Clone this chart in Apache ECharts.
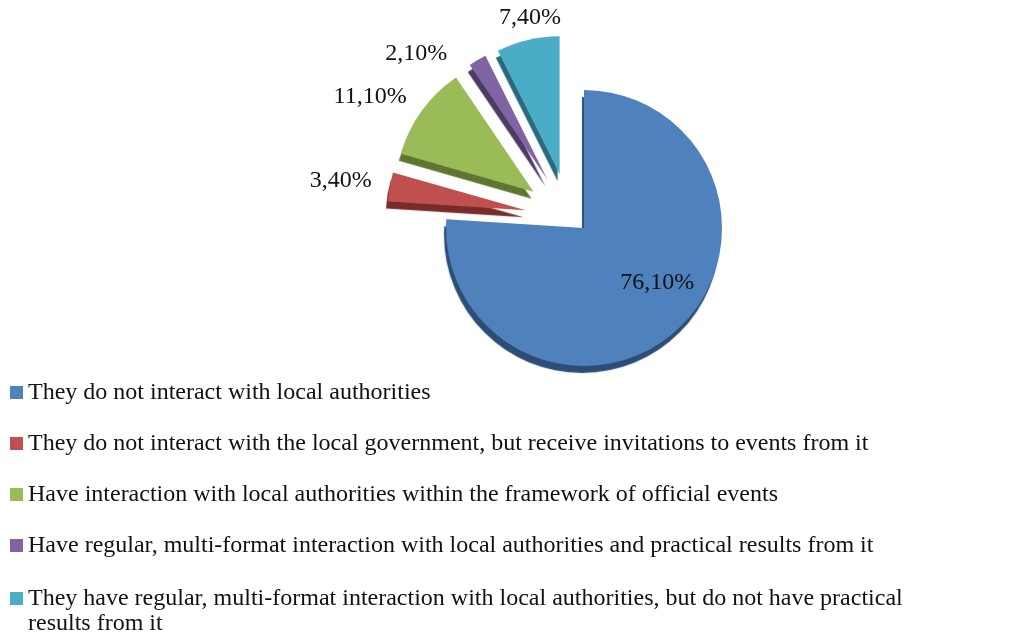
<!DOCTYPE html>
<html>
<head>
<meta charset="utf-8" />
<title></title>
<script type="text/javascript" src="https://cdn.jsdelivr.net/npm/echarts@6/dist/echarts.min.js"></script>
</head>
<body style="margin:0;background:#fff;">
<div id="main" style="width:1018px;height:639px;"></div>
<script type="text/javascript">
var categories = [
    'They do not interact with local authorities',
    'They do not interact with the local government, but receive invitations to events from it',
    'Have interaction with local authorities within the framework of official events',
    'Have regular, multi-format interaction with local authorities and practical results from it',
    'They have regular, multi-format interaction with local authorities, but do not have practical results from it'
];
var shares = [76.1, 3.4, 11.1, 2.1, 7.4];
var exploded = [false, true, true, true, true];

var colors = ['#4f81bd', '#c0504d', '#9bbb59', '#8064a2', '#4bacc6'];
var sideColors = ['#2c4d75', '#772c2a', '#5f7530', '#4d3b62', '#276a7c'];
// nudges for the percentage labels (px)
var labelShift = [[24, 2], [-2, -5], [0, -9], [-2, -9], [48, -14]];

var chart = echarts.init(document.getElementById('main'));

function fmt(v) {
    return v.toFixed(2).replace('.', ',') + '%';
}

// two pie series: the solid slice and the pulled-out ones (the exploded part sits a bit up-left)
function buildData(explodedPart) {
    var res = [];
    for (var i = 0; i < categories.length; i++) {
        var visible = exploded[i] === explodedPart;
        res.push({
            name: categories[i],
            value: shares[i],
            selected: explodedPart && visible,
            itemStyle: visible ? {
                color: colors[i],
                shadowColor: sideColors[i],
                shadowBlur: 1,
                shadowOffsetX: -2,
                shadowOffsetY: 7
            } : { color: 'transparent' },
            label: visible ? { show: true, position: i === 0 ? 'inside' : 'outside' } : { show: false }
        });
    }
    return res;
}

var legendData = categories.map(function (name, i) {
    return { name: name, itemStyle: { color: colors[i], shadowBlur: 0 } };
});

var labelCfg = {
    color: '#111',
    fontFamily: 'Liberation Serif',
    fontSize: 24,
    formatter: function (p) {
        return fmt(p.value);
    }
};

var legendBase = {
    orient: 'vertical',
    left: 10,
    padding: 0,
    icon: 'rect',
    itemWidth: 13,
    itemHeight: 13,
    itemGap: 26,
    selectedMode: false,
    formatter: function (name) {
        // last entry wraps onto a second line
        if (name === categories[4]) {
            return name.replace(' results from it', '\nresults from it');
        }
        return name;
    },
    textStyle: {
        fontFamily: 'Liberation Serif',
        fontSize: 24,
        lineHeight: 25,
        color: '#111'
    }
};

var option = {
    backgroundColor: '#fff',
    animation: false,
    // split in two so the long last entry does not push into a second column
    legend: [
        Object.assign({}, legendBase, { top: 380, data: legendData.slice(0, 4) }),
        Object.assign({}, legendBase, {
            top: 586,
            data: legendData.slice(4),
            // square sits beside the first text line, not centred on both
            icon: 'path://M0,0L13,0L13,13L0,13Z M0,38L0.05,38L0.05,38.05Z',
            itemHeight: 38
        })
    ],
    series: [{
        type: 'pie',
        center: [584, 228],
        radius: 138,
        startAngle: 90,
        clockwise: true,
        data: buildData(false),
        label: labelCfg,
        labelLine: { show: false },
        labelLayout: function (p) {
            return { dx: labelShift[p.dataIndex][0], dy: labelShift[p.dataIndex][1] };
        },
        emphasis: { disabled: true }
    }, {
        type: 'pie',
        center: [570, 218],
        radius: 138,
        startAngle: 90,
        clockwise: true,
        selectedMode: 'multiple',
        selectedOffset: 45,
        data: buildData(true),
        label: labelCfg,
        labelLine: { show: false, length: 8, length2: 8 },
        labelLayout: function (p) {
            return { dx: labelShift[p.dataIndex][0], dy: labelShift[p.dataIndex][1] };
        },
        emphasis: { disabled: true }
    }]
};
chart.setOption(option);
</script>
</body>
</html>
